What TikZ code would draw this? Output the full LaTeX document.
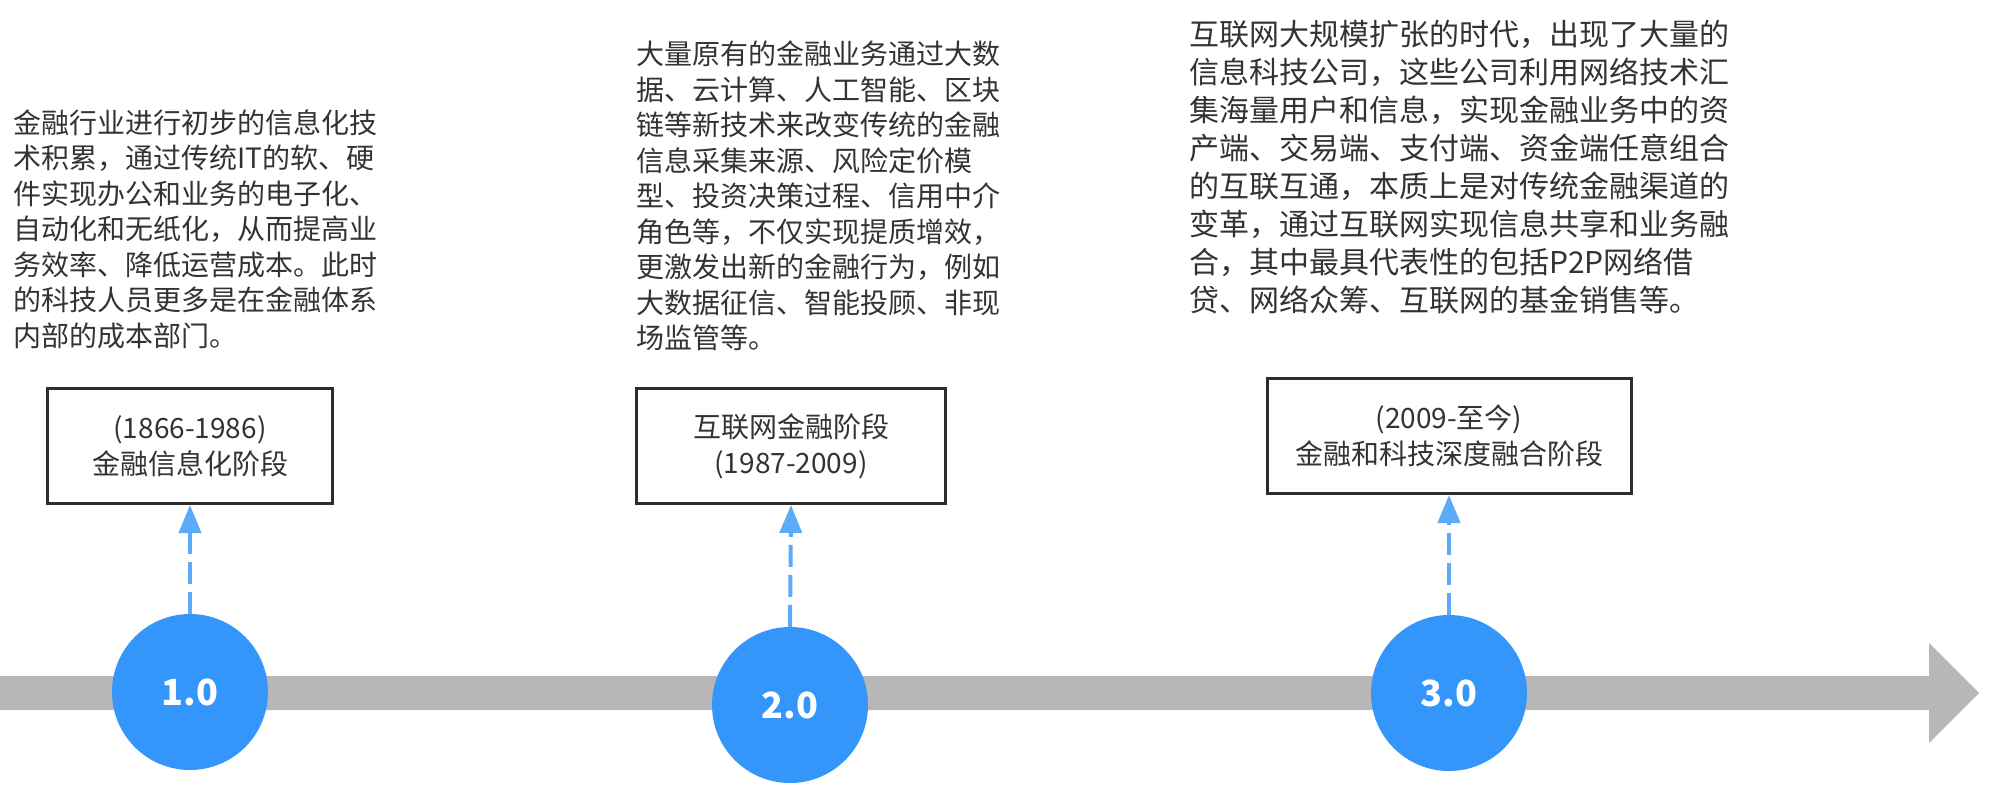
\documentclass[tikz,border=0pt]{standalone}
\usepackage{fontspec}
\setmainfont{Noto Sans CJK SC}
\usetikzlibrary{arrows.meta}
\definecolor{txt}{RGB}{51,51,51}
\definecolor{boxline}{RGB}{45,45,45}
\definecolor{bluefill}{RGB}{52,150,250}
\definecolor{dashblue}{RGB}{92,170,248}
\definecolor{bargray}{RGB}{183,183,183}
\begin{document}
\begin{tikzpicture}[x=1pt,y=-1pt,
  desc/.style={anchor=north west, align=left, inner sep=0pt, text=txt, font=\fontsize{28}{35.5}\selectfont},
  stagebox/.style={draw=boxline, line width=3pt, fill=white, minimum height=115pt, align=center, text=txt, font=\fontsize{28}{36}\selectfont, inner sep=0pt},
  milestone/.style={circle, fill=bluefill, minimum size=156pt, inner sep=0pt, text=white, font=\fontsize{36}{40}\selectfont\bfseries},
  linkarrow/.style={draw=dashblue, line width=4pt, dash pattern=on 22pt off 8pt, -{Triangle[length=28pt,width=22pt]}}
]
\useasboundingbox (0,0) rectangle (2000,804);
% timeline bar
\fill[bargray] (0,676) -- (1929,676) -- (1929,643) -- (1979,693) -- (1929,743) -- (1929,710) -- (0,710) -- cycle;
% milestones
\node[milestone] (c1) at (190,692) {1.0};
\node[milestone] (c2) at (790,705) {2.0};
\node[milestone] (c3) at (1449,693) {3.0};
% stage boxes
\node[stagebox, minimum width=285pt] (b1) at (190,446) {(1866-1986)\\金融信息化阶段};
\node[stagebox, minimum width=309pt] (b2) at (791,446) {互联网金融阶段\\(1987-2009)};
\node[stagebox, minimum width=364pt] (b3) at (1449,436) {(2009-至今)\\金融和科技深度融合阶段};
% connectors
\draw[linkarrow] (c1.north) -- (b1.south);
\draw[linkarrow] (c2.north) -- (b2.south);
\draw[linkarrow] (c3.north) -- (b3.south);
% descriptions
\node[desc] (t1) at (13,109) {金融行业进行初步的信息化技\\术积累，通过传统IT的软、硬\\件实现办公和业务的电子化、\\自动化和无纸化，从而提高业\\务效率、降低运营成本。此时\\的科技人员更多是在金融体系\\内部的成本部门。};
\node[desc] (t2) at (636,41) {大量原有的金融业务通过大数\\据、云计算、人工智能、区块\\链等新技术来改变传统的金融\\信息采集来源、风险定价模\\型、投资决策过程、信用中介\\角色等，不仅实现提质增效，\\更激发出新的金融行为，例如\\大数据征信、智能投顾、非现\\场监管等。};
\node[desc, font=\fontsize{30}{38}\selectfont] (t3) at (1189,20) {互联网大规模扩张的时代，出现了大量的\\信息科技公司，这些公司利用网络技术汇\\集海量用户和信息，实现金融业务中的资\\产端、交易端、支付端、资金端任意组合\\的互联互通，本质上是对传统金融渠道的\\变革，通过互联网实现信息共享和业务融\\合，其中最具代表性的包括P2P网络借\\贷、网络众筹、互联网的基金销售等。};
\end{tikzpicture}
\end{document}
